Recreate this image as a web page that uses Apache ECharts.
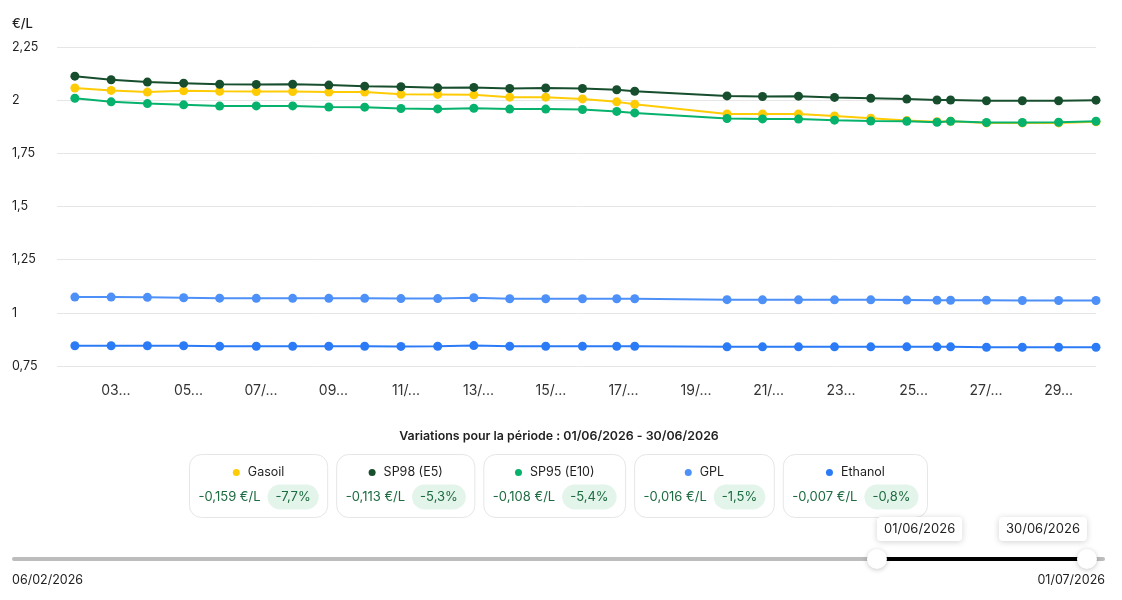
<!DOCTYPE html>
<html><head><meta charset="utf-8">
<script src="https://cdn.jsdelivr.net/npm/echarts@6/dist/echarts.min.js"></script>
<style>html,body{margin:0;padding:0;background:#fff}#c{width:1122px;height:600px}</style>
</head><body><div id="c"></div>
<script>
// ---------- DATA ----------
const seriesNames = ['Gasoil', 'SP98 (E5)', 'SP95 (E10)', 'GPL', 'Ethanol'];
const dates = [
  '2026-06-01 20:50','2026-06-02 20:50','2026-06-03 20:50','2026-06-04 20:50','2026-06-05 20:40',
  '2026-06-06 20:55','2026-06-07 21:00','2026-06-08 20:55','2026-06-09 20:40','2026-06-10 20:40',
  '2026-06-11 21:00','2026-06-12 20:55','2026-06-13 20:40','2026-06-14 20:30','2026-06-15 20:50',
  '2026-06-16 19:30','2026-06-17 07:25','2026-06-19 20:30','2026-06-20 20:00','2026-06-21 19:50',
  '2026-06-22 19:40','2026-06-23 19:40','2026-06-24 19:30','2026-06-25 15:30','2026-06-26 00:30',
  '2026-06-27 00:15','2026-06-28 00:00','2026-06-29 00:00','2026-06-30 00:45'
];
const gasoil = [2.057,2.046,2.038,2.044,2.042,2.041,2.041,2.038,2.038,2.028,
  2.027,2.025,2.014,2.014,2.006,1.992,1.981,1.935,1.935,1.935,
  1.926,1.915,1.904,1.899,1.901,1.893,1.893,1.893,1.898];
const sp98 = [2.113,2.096,2.085,2.080,2.075,2.074,2.075,2.071,2.066,2.063,
  2.058,2.060,2.055,2.057,2.055,2.049,2.042,2.020,2.017,2.019,
  2.013,2.009,2.005,2.001,2.001,1.997,1.997,1.997,2.000];
const sp95 = [2.009,1.992,1.984,1.978,1.972,1.973,1.973,1.968,1.967,1.961,
  1.959,1.962,1.958,1.958,1.956,1.947,1.940,1.914,1.912,1.911,
  1.906,1.902,1.901,1.896,1.901,1.895,1.895,1.896,1.901];
const gpl = [1.074,1.074,1.073,1.071,1.069,1.068,1.068,1.068,1.068,1.067,
  1.067,1.071,1.066,1.066,1.066,1.066,1.066,1.062,1.061,1.061,
  1.061,1.061,1.060,1.059,1.059,1.059,1.058,1.058,1.058];
const ethanol = [0.845,0.845,0.845,0.845,0.843,0.843,0.843,0.843,0.843,0.842,
  0.843,0.846,0.843,0.843,0.843,0.843,0.843,0.840,0.840,0.840,
  0.840,0.840,0.840,0.840,0.840,0.838,0.838,0.838,0.838];
const xTickDates = ['2026-06-03','2026-06-05','2026-06-07','2026-06-09','2026-06-11','2026-06-13','2026-06-15',
  '2026-06-17','2026-06-19','2026-06-21','2026-06-23','2026-06-25','2026-06-27','2026-06-29'];
const yMin = 0.75, yMax = 2.25, yStep = 0.25;
const yUnit = '€/L';
const titleText = 'Variations pour la période';
const rangeStart = '2026-02-06', rangeEnd = '2026-07-01';

// ---------- STYLE ----------
const colors = ['#FFCB05', '#174E2D', '#06B26C', '#4D90F7', '#2C7BF6'];
const FONT = 'Inter, "Noto Sans", sans-serif';
const TXT = '#1f1f1f';
const xLabelSize = 14, xLabelWidth = 34;

function toTs(s) {
  const [d, t] = s.split(' ');
  const [Y, M, D] = d.split('-').map(Number);
  const [h, m] = (t || '00:00').split(':').map(Number);
  return new Date(Y, M - 1, D, h, m).getTime();
}
const pad = n => String(n).padStart(2, '0');
function fmt(ts) { const d = new Date(ts); return pad(d.getDate()) + '/' + pad(d.getMonth() + 1) + '/' + d.getFullYear(); }
const comma = s => String(s).replace('.', ',');

const ts = dates.map(toTs);
const allVals = [gasoil, sp98, sp95, gpl, ethanol];

const cvs = document.createElement('canvas').getContext('2d');
function tw(s, size, weight) { cvs.font = (weight || 400) + ' ' + size + 'px ' + FONT; return cvs.measureText(s).width; }
function truncate(s, size, maxW) {
  if (tw(s, size) <= maxW) return s;
  const ell = '...', lim = maxW - tw(ell, size);
  let k = s.length;
  while (k > 0 && tw(s.slice(0, k), size) > lim) k--;
  return s.slice(0, k) + ell;
}

const series = seriesNames.map((n, i) => ({
  name: n, type: 'line', data: ts.map((t, k) => [t, allVals[i][k]]),
  symbol: 'circle', symbolSize: 9, showSymbol: true,
  lineStyle: { width: 2, color: colors[i] }, itemStyle: { color: colors[i] },
  emphasis: { disabled: true }, animation: false, z: 2 + i
}));

// ---------- GRAPHICS (summary cards + period slider) ----------
const g = [];
g.push({ type: 'text', left: 12, top: 18, style: { text: yUnit, fill: TXT, font: '500 13px ' + FONT } });
const pStart = fmt(ts[0]), pEnd = fmt(ts[ts.length - 1]);
g.push({ type: 'text', x: 559, y: 436, style: { text: titleText + ' : ' + pStart + ' - ' + pEnd, fill: TXT,
  font: '600 12.4px ' + FONT, align: 'center', textAlign: 'center', verticalAlign: 'middle', textVerticalAlign: 'middle' } });

const padX = 9, gapV = 7, pillPad = 8, cardGap = 9, cardH = 63, cardY = 454.5;
const cards = seriesNames.map((n, i) => {
  const v = allVals[i], diff = v[v.length - 1] - v[0], pct = diff / v[0] * 100;
  const valTxt = comma(diff.toFixed(3)) + ' €/L';
  const pctTxt = comma(pct.toFixed(1)) + '%';
  const vw = tw(valTxt, 13), pw = tw(pctTxt, 13) + 2 * pillPad, nw = tw(n, 12.5);
  const rowW = vw + gapV + pw;
  const w = Math.max(rowW, nw + 15) + 2 * padX;
  return { n, i, valTxt, pctTxt, vw, pw, nw, rowW, w };
});
const totalW = cards.reduce((a, c) => a + c.w, 0) + cardGap * (cards.length - 1);
let cx0 = 558.5 - totalW / 2;
cards.forEach(c => {
  const x = cx0, mid = x + c.w / 2;
  g.push({ type: 'rect', shape: { x: x, y: cardY, width: c.w, height: cardH, r: 12 },
    style: { fill: '#fff', stroke: '#e6e6e6', lineWidth: 1 } });
  const nameRow = 7 + 8 + c.nw, nr0 = mid - nameRow / 2;
  g.push({ type: 'circle', shape: { cx: nr0 + 3.5, cy: cardY + 18, r: 3.5 }, style: { fill: colors[c.i] } });
  g.push({ type: 'text', x: nr0 + 15, y: cardY + 18, style: { text: c.n, fill: TXT, font: '400 12.5px ' + FONT,
    verticalAlign: 'middle', textVerticalAlign: 'middle' } });
  const r0 = mid - c.rowW / 2, ry = cardY + 42.5;
  g.push({ type: 'text', x: r0, y: ry, style: { text: c.valTxt, fill: '#1d6b40', font: '400 13px ' + FONT,
    verticalAlign: 'middle', textVerticalAlign: 'middle' } });
  const px = r0 + c.vw + gapV;
  g.push({ type: 'rect', shape: { x: px, y: ry - 12.5, width: c.pw, height: 25, r: 12.5 }, style: { fill: '#e3f4ea' } });
  g.push({ type: 'text', x: px + c.pw / 2, y: ry, style: { text: c.pctTxt, fill: '#1d6b40', font: '400 13px ' + FONT,
    align: 'center', textAlign: 'center', verticalAlign: 'middle', textVerticalAlign: 'middle' } });
  cx0 += c.w + cardGap;
});

// slider
const rs = toTs(rangeStart), re = toTs(rangeEnd);
const thumbMin = 44.2, thumbMax = 1094.2, trackY = 559;
const sx = t => thumbMin + (t - rs) / (re - rs) * (thumbMax - thumbMin);
const selS = toTs(dates[0].split(' ')[0]), selE = toTs(dates[dates.length - 1].split(' ')[0]);
const xS = sx(selS), xE = sx(selE);
g.push({ type: 'rect', shape: { x: 12, y: trackY - 2, width: 1093, height: 4, r: 2 }, style: { fill: '#bcbcbc' } });
g.push({ type: 'rect', shape: { x: xS, y: trackY - 2, width: xE - xS, height: 4 }, style: { fill: '#000' } });
[xS, xE].forEach(x => g.push({ type: 'circle', shape: { cx: x, cy: trackY, r: 10 },
  style: { fill: '#fff', shadowBlur: 5, shadowColor: 'rgba(0,0,0,0.22)', shadowOffsetY: 1 } }));
const bw1 = tw(pStart, 13) + 14, bw2 = tw(pEnd, 13) + 14;
[[xS, bw1, pStart], [xE - bw2, bw2, pEnd]].forEach(([bx, bw, t]) => {
  g.push({ type: 'rect', shape: { x: bx, y: 517, width: bw, height: 24, r: 4 },
    style: { fill: '#fff', shadowBlur: 6, shadowColor: 'rgba(0,0,0,0.18)', shadowOffsetY: 1 } });
  g.push({ type: 'text', x: bx + bw / 2, y: 529, style: { text: t, fill: TXT, font: '400 13px ' + FONT,
    align: 'center', textAlign: 'center', verticalAlign: 'middle', textVerticalAlign: 'middle' } });
});
g.push({ type: 'text', x: 12, y: 580, style: { text: fmt(rs), fill: TXT, font: '400 12.5px ' + FONT,
  verticalAlign: 'middle', textVerticalAlign: 'middle' } });
g.push({ type: 'text', x: 1105, y: 580, style: { text: fmt(re), fill: TXT, font: '400 12.5px ' + FONT,
  align: 'right', textAlign: 'right', verticalAlign: 'middle', textVerticalAlign: 'middle' } });

// ---------- CHART ----------
const chart = echarts.init(document.getElementById('c'), null, { renderer: 'canvas' });
chart.setOption({
  animation: false,
  backgroundColor: '#fff',
  grid: { left: 57, right: 26, top: 47, bottom: 234, containLabel: false, outerBoundsMode: 'none' },
  xAxis: {
    type: 'value', min: toTs('2026-06-01 09:00'), max: 'dataMax',
    axisLine: { show: false }, axisTick: { show: false }, splitLine: { show: false },
    axisLabel: {
      customValues: xTickDates.map(d => toTs(d)),
      formatter: v => truncate(fmt(v), xLabelSize, xLabelWidth), hideOverlap: false,
      color: '#333', fontSize: xLabelSize, fontFamily: FONT, margin: 18
    }
  },
  yAxis: {
    type: 'value', min: yMin, max: yMax, interval: yStep,
    axisLine: { show: false }, axisTick: { show: false },
    splitLine: { lineStyle: { color: '#e6e6e6', width: 1 } },
    axisLabel: { align: 'left', margin: 45, color: TXT, fontSize: 12.5, fontFamily: FONT, formatter: v => comma(+v.toFixed(2)) }
  },
  series: series,
  graphic: { elements: g }
});
</script></body></html>
